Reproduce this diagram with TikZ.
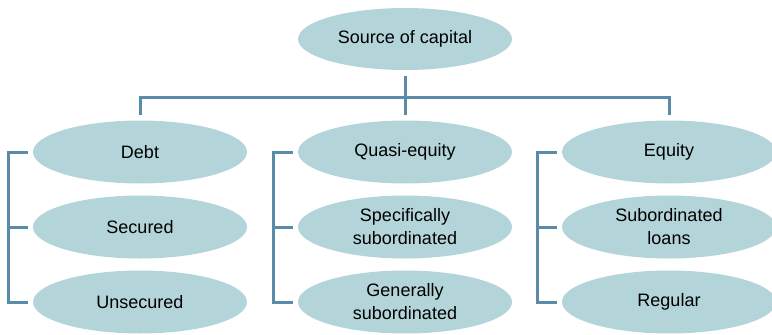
\documentclass[tikz,border=0pt]{standalone}
\usepackage{fontspec}
\setmainfont{Liberation Sans}
\usetikzlibrary{shapes.geometric,calc}
\definecolor{ellfill}{HTML}{B3D4D9}
\definecolor{linecol}{HTML}{5A8BAA}
\begin{document}
\begin{tikzpicture}[x=1pt,y=-1pt,
  oval/.style={ellipse,fill=ellfill,draw=none,minimum width=214pt,minimum height=63pt,inner sep=0pt,
    align=center,font=\fontsize{18}{23}\selectfont},
  conn/.style={draw=linecol,line width=3pt}]
\useasboundingbox (0,0) rectangle (772,335);
\node[oval,minimum height=62pt] (src) at (405,39) {Source of capital};
\node[oval] (debt) at (140,152) {Debt};
\node[oval] (quasi) at (405,152) {Quasi-equity};
\node[oval] (equity) at (669,152) {Equity};
\node[oval] (secured) at (140,227) {Secured};
\node[oval] (specsub) at (405,227) {Specifically\\subordinated};
\node[oval] (subloans) at (669,227) {Subordinated\\loans};
\node[oval] (unsecured) at (140,302) {Unsecured};
\node[oval] (gensub) at (405,302) {Generally\\subordinated};
\node[oval] (regular) at (669,302) {Regular};
% tree connectors
\coordinate (srcb) at ($(src.south)+(0,6)$);
\coordinate (bar) at (405,97);
\coordinate (barl) at (140,97);
\coordinate (barr) at (669,97);
\coordinate (dl) at ($(debt.north)+(0,-5)$);
\coordinate (dm) at ($(quasi.north)+(0,-5)$);
\coordinate (dr) at ($(equity.north)+(0,-5)$);
\draw[conn] (srcb) -- (dm);
\draw[conn] (dl) -- (barl) -- (barr) -- (dr);
% brackets
\foreach \c/\a/\b/\z in {debt/secured/unsecured/L, quasi/specsub/gensub/M, equity/subloans/regular/R}{
  \coordinate (t1\z) at ($(\c.west)+(-5,0)$);
  \coordinate (t2\z) at ($(\a.west)+(-5,0)$);
  \coordinate (t3\z) at ($(\b.west)+(-5,0)$);
  \draw[conn] (t1\z) -- ++(-19,0) |- (t3\z);
  \draw[conn] ($(t2\z)+(-19,0)$) -- (t2\z);
}
\end{tikzpicture}
\end{document}
